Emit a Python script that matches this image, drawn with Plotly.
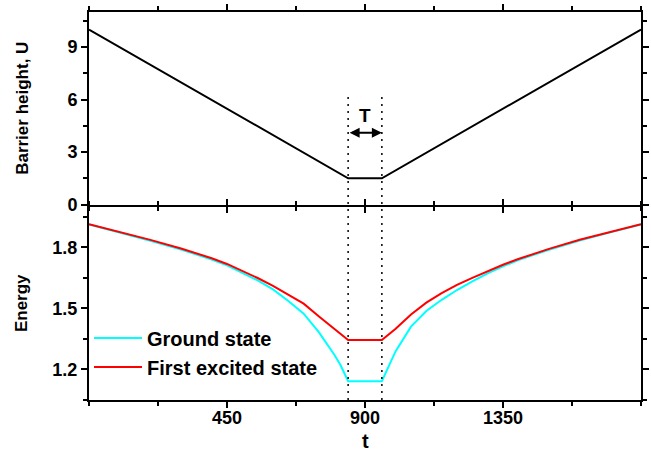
import plotly.graph_objects as go

# ---- data ----
t_barrier = [0, 845, 955, 1800]
U_barrier = [10, 1.5, 1.5, 10]

t_ground = [0, 100, 200, 300, 400, 450, 500, 550, 600, 650, 700, 750, 800, 820, 845,
            955, 970, 1000, 1050, 1100, 1150, 1200, 1250, 1300, 1350, 1400, 1500, 1600, 1700, 1800]
E_ground = [1.912, 1.873, 1.832, 1.789, 1.740, 1.711, 1.676, 1.637, 1.593, 1.536, 1.474, 1.382, 1.272, 1.222, 1.142,
            1.142, 1.192, 1.290, 1.410, 1.487, 1.542, 1.590, 1.632, 1.672, 1.706, 1.737, 1.788, 1.833, 1.873, 1.912]

t_excited = [0, 100, 200, 300, 400, 450, 500, 550, 600, 650, 700, 750, 800, 845,
             955, 1000, 1050, 1100, 1150, 1200, 1250, 1300, 1350, 1400, 1500, 1600, 1700, 1800]
E_excited = [1.913, 1.876, 1.836, 1.794, 1.746, 1.718, 1.685, 1.649, 1.610, 1.568, 1.523, 1.460, 1.398, 1.345,
             1.345, 1.400, 1.470, 1.528, 1.575, 1.615, 1.650, 1.683, 1.714, 1.742, 1.792, 1.837, 1.876, 1.913]

T_left, T_right = 845, 955
x_ticks = [450, 900, 1350]

FONT = "Liberation Sans"

fig = go.Figure()
fig.add_trace(go.Scatter(x=t_barrier, y=U_barrier, mode="lines", line=dict(color="black", width=2),
                         xaxis="x2", yaxis="y2", showlegend=False))
fig.add_trace(go.Scatter(x=t_ground, y=E_ground, mode="lines", name="Ground state",
                         line=dict(color="#00FFFF", width=2), xaxis="x", yaxis="y"))
fig.add_trace(go.Scatter(x=t_excited, y=E_excited, mode="lines", name="First excited state",
                         line=dict(color="#FF0000", width=2), xaxis="x", yaxis="y"))

tickfont = dict(family=FONT, size=18, color="black", weight="bold")
common_x = dict(range=[0, 1800], tickmode="array", tickvals=x_ticks, ticks="outside", ticklen=6, tickwidth=2,
                minor=dict(dtick=225, tick0=0, ticks="outside", ticklen=4, tickwidth=1.5, tickcolor="black"),
                showline=True, linewidth=2, linecolor="black", mirror="ticks", showgrid=False, zeroline=False,
                tickcolor="black", tickfont=tickfont, automargin=False, ticklabelstandoff=-6)
common_y = dict(ticks="outside", ticklen=6, tickwidth=2, showline=True, linewidth=2, linecolor="black",
                mirror="ticks", showgrid=False, zeroline=False, tickcolor="black", tickfont=tickfont,
                automargin=False)

H_in = 461 - 12 - 61
bot_top = (400 - 206.5) / H_in
top_bot = (400 - 204.5) / H_in

fig.update_layout(
    width=651, height=461,
    margin=dict(l=89, r=10, t=12, b=61),
    plot_bgcolor="white", paper_bgcolor="white",
    xaxis=dict(**common_x, anchor="y", domain=[0, 1]),
    xaxis2=dict(**common_x, anchor="y2", domain=[0, 1], matches="x", showticklabels=False),
    yaxis=dict(**common_y, anchor="x", domain=[0, bot_top], range=[1.05, 2.0], tick0=1.2, dtick=0.3,
               minor=dict(dtick=0.15, tick0=1.05, ticks="outside", ticklen=4, tickwidth=1.5, tickcolor="black"),
               title=dict(text="Energy", font=dict(family=FONT, size=17, color="black", weight="bold"), standoff=20)),
    yaxis2=dict(**common_y, anchor="x2", domain=[top_bot, 1], range=[0, 11], tick0=0, dtick=3,
                minor=dict(dtick=1.5, tick0=0, ticks="outside", ticklen=4, tickwidth=1.5, tickcolor="black"),
                title=dict(text="Barrier height, U", font=dict(family=FONT, size=17, color="black", weight="bold"), standoff=34)),
    legend=dict(x=0.0, y=0.21, xanchor="left", yanchor="top", bgcolor="rgba(0,0,0,0)",
                font=dict(family=FONT, size=20, color="black", weight="bold"), tracegroupgap=0, itemwidth=48),
)

for tx in (T_left, T_right):
    fig.add_shape(type="line", xref="x", yref="paper", x0=tx, x1=tx, y0=0, y1=0.79,
                  line=dict(color="black", width=1.5, dash="2px,5px"))

fig.add_annotation(x=T_right, y=4.1, ax=T_left, ay=4.1, xref="x2", yref="y2", axref="x2", ayref="y2",
                   text="", showarrow=True, arrowhead=2, arrowside="end+start", arrowwidth=2, arrowsize=1,
                   arrowcolor="black", standoff=0, startstandoff=0)
fig.add_annotation(x=(T_left + T_right) / 2, y=5.1, xref="x2", yref="y2", text="T", showarrow=False,
                   font=dict(family=FONT, size=19, color="black", weight="bold"))
fig.add_annotation(x=0.5, y=-0.105, xref="paper", yref="paper", text="t", showarrow=False,
                   yanchor="middle", font=dict(family=FONT, size=20, color="black", weight="bold"))

fig.write_html("out.html", config={"displayModeBar": False},
               post_script="document.body.style.margin='0px';document.body.style.padding='0px';")
